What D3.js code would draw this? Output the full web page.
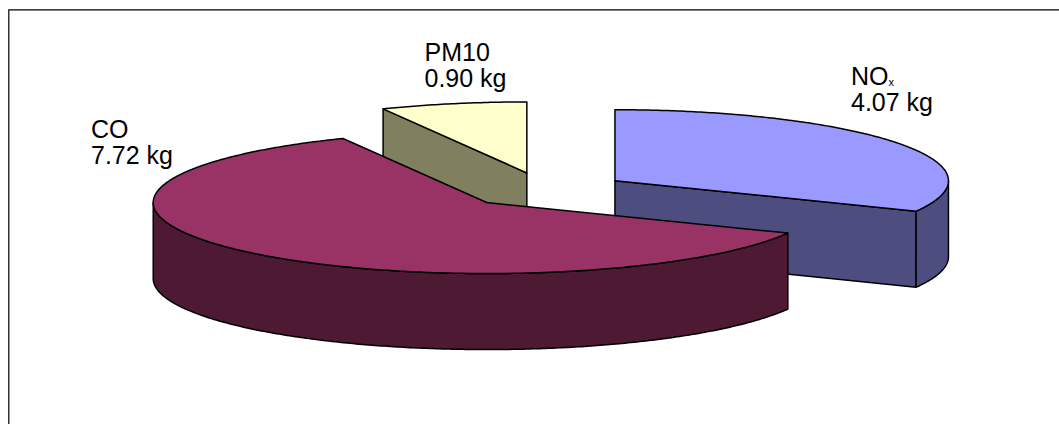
<!DOCTYPE html>
<html>
<head>
<meta charset="utf-8">
<style>
  html, body { margin: 0; padding: 0; background: #fff; }
  svg { display: block; }
  text { font-family: "Liberation Sans", Arial, sans-serif; font-size: 25px; fill: #000; }
</style>
<script src="https://cdn.jsdelivr.net/npm/d3@7"></script>
</head>
<body>
<svg id="chart" width="1059" height="424"></svg>
<script>
// Emissions per pollutant, drawn as an exploded pie with a raised rim.
const pollutants = ["NOx", "CO", "PM10"];
const masses = [4.07, 7.72, 0.90];
const massLabels = ["4.07 kg", "7.72 kg", "0.90 kg"];
const topColors = ["#9999ff", "#993366", "#ffffcc"];
const wallColors = ["#4d4d80", "#4d1933", "#80805f"];
const labelAnchors = [[851, 85], [91, 137.7], [424.5, 60.7]];

const width = 1059, height = 424;
const centre = { x: 545.1, y: 190.1 };
const radiusX = 333.5, radiusY = 71, depth = 76, explode = 0.2477;

const svg = d3.select("#chart");

// Chart frame: it runs off the page on the right and at the bottom
svg.append("path")
  .attr("d", d3.line()([[8.8, height + 2], [8.8, 9.9], [width + 2, 9.9]]))
  .attr("fill", "none").attr("stroke", "#000").attr("stroke-width", 1.2);

const pie = d3.pie().value(d => d).sort(null);
const slices = pie(masses);

const scaleX = d3.scaleLinear().domain([-1, 1]).range([-radiusX, radiusX]);
const scaleY = d3.scaleLinear().domain([-1, 1]).range([-radiusY, radiusY]);

// Position for a clockwise angle measured from twelve o'clock
const onRim = (a, c, k = 1, dz = 0) => [
  c.x + scaleX(Math.sin(a) * k),
  c.y - scaleY(Math.cos(a) * k) + dz
];
const angleSteps = (a0, a1) => {
  const n = Math.max(2, Math.ceil(Math.abs(a1 - a0) / 0.01));
  return d3.range(n + 1).map(i => a0 + (a1 - a0) * i / n);
};
const line = d3.line();

// Each slice keeps its own apex, pushed out along its mid-angle
const apexes = slices.map(s => {
  const mid = (s.startAngle + s.endAngle) / 2;
  const [x, y] = onRim(mid, centre, explode);
  return { x, y };
});

const drawOrder = [2, 0, 1];
const layers = svg.append("g");

const paint = (g, pts, fill) => g.append("path")
  .attr("d", line(pts) + "Z")
  .attr("fill", fill).attr("stroke", "#000")
  .attr("stroke-width", 1.5).attr("stroke-linejoin", "round");

drawOrder.forEach(i => {
  const s = slices[i], c = apexes[i];
  const g = layers.append("g").attr("class", "slice-" + pollutants[i]);
  const apex = [c.x, c.y];
  const apexLow = [c.x, c.y + depth];

  // A cut face shows when the slice body lies above its cut line on screen
  [[s.startAngle, s.endAngle], [s.endAngle, s.startAngle]].forEach(([a, other]) => {
    const r = onRim(a, c);
    const dx = r[0] - apex[0];
    if (Math.abs(dx) < 1) return;
    const body = onRim((a + other) / 2, c, 0.5);
    const cutY = apex[1] + (r[1] - apex[1]) * (body[0] - apex[0]) / dx;
    if (body[1] < cutY) {
      paint(g, [apex, r, onRim(a, c, 1, depth), apexLow], wallColors[i]);
    }
  });

  // Outer wall: the part of the rim on the lower half of the ellipse
  const from = Math.max(s.startAngle, Math.PI / 2);
  const to = Math.min(s.endAngle, Math.PI * 1.5);
  if (to > from) {
    const arc = angleSteps(from, to);
    paint(g, arc.map(a => onRim(a, c)).concat(arc.slice().reverse().map(a => onRim(a, c, 1, depth))), wallColors[i]);
  }

  // Top surface
  const rim = angleSteps(s.startAngle, s.endAngle).map(a => onRim(a, c));
  paint(g, [apex, ...rim], topColors[i]);
});

// Two-line labels; the x of NOx is set as a small subscript
const labels = svg.append("g");
pollutants.forEach((name, i) => {
  const [lx, ly] = labelAnchors[i];
  const t = labels.append("text").attr("x", lx).attr("y", ly);
  if (name === "NOx") {
    t.append("tspan").text("NO");
    t.append("tspan").text("x").attr("font-size", 11).attr("dy", 1);
  } else {
    t.text(name);
  }
  labels.append("text").attr("x", lx).attr("y", ly + 26.3).text(massLabels[i]);
});
</script>
</body>
</html>
